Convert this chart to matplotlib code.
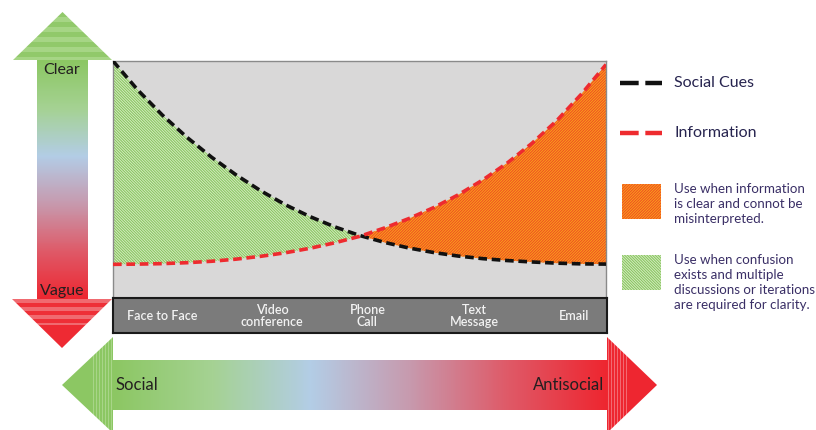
import numpy as np
import matplotlib
matplotlib.use("Agg")
import matplotlib.pyplot as plt
from matplotlib.colors import LinearSegmentedColormap, to_rgb
from matplotlib.patches import Polygon, Rectangle

# ---------------- data ----------------
x_pos = [0.00, 0.05, 0.10, 0.15, 0.20, 0.25, 0.30, 0.35, 0.40, 0.45, 0.50,
         0.55, 0.60, 0.65, 0.70, 0.75, 0.80, 0.85, 0.90, 0.95, 1.00]
social_cues = [1.000, 0.878, 0.772, 0.678, 0.594, 0.519, 0.452, 0.393, 0.343, 0.300, 0.264,
               0.235, 0.211, 0.192, 0.177, 0.166, 0.158, 0.152, 0.147, 0.144, 0.143]
information = [0.142, 0.143, 0.145, 0.149, 0.155, 0.164, 0.176, 0.191, 0.210, 0.233, 0.260,
               0.295, 0.335, 0.381, 0.435, 0.498, 0.570, 0.653, 0.748, 0.860, 0.985]
channels = ["Face to Face", "Video\nconference", "Phone\nCall", "Text\nMessage", "Email"]
series_labels = ["Social Cues", "Information"]
fill_notes = ["Use when information\nis clear and connot be\nmisinterpreted.",
              "Use when confusion\nexists and multiple\ndiscussions or iterations\nare required for clarity."]
vertical_labels = ["Clear", "Vague"]
horizontal_labels = ["Social", "Antisocial"]

# ---------------- style ----------------
FONT = ["Lato", "DejaVu Sans"]
plt.rcParams["font.family"] = FONT
plt.rcParams["hatch.linewidth"] = 0.7
W, H = 816, 430
BLACK = "#111111"
RED = "#ee2b2f"
GREEN_H = "#86c35c"
GREEN_F = "#d3ebc0"
ORANGE_F = "#fba21a"
ORANGE_H = "#ee4a24"
TXT_NAVY = "#27244f"
TXT_PURP = "#3a2f66"
HATCH_N = 12

fig = plt.figure(figsize=(W / 100, H / 100), dpi=100)
fig.patch.set_facecolor("white")

# full-figure pixel-space axes for decorations
bg = fig.add_axes([0, 0, 1, 1])
bg.set_axis_off()


def px_axes(x0, y0, x1, y1):
    return fig.add_axes([x0 / W, 1 - y1 / H, (x1 - x0) / W, (y1 - y0) / H])


grad = LinearSegmentedColormap.from_list(
    "g", ["#8cc763", "#a5d293", "#b3cde6", "#c79aae", "#df5a68", "#ee2630"])


def clipped_image(ax, verts, img, extent, z=2):
    poly = Polygon(verts, closed=True, facecolor="none", edgecolor="none")
    ax.add_patch(poly)
    im = ax.imshow(img, extent=extent, aspect="auto", interpolation="nearest", zorder=z)
    im.set_clip_path(poly)


# ---- vertical arrow (Clear / Vague) ----
n = 240
col = grad(np.linspace(0, 1, n))[:, :3][:, None, :]
bg.imshow(col, extent=(37, 88, 300, 60), aspect="auto", interpolation="bilinear", zorder=1)

rows = []
for i in range(48):
    rows.append(to_rgb("#a6d585") if (i // 5) % 2 == 1 else to_rgb("#91c96a"))
clipped_image(bg, [(13, 60), (112, 60), (62.5, 12)], np.array(rows)[:, None, :], (13, 112, 60, 12))

rows = []
for i in range(49):
    if i < 26:
        rows.append(to_rgb("#f06a70") if (i // 4) % 2 == 0 else to_rgb("#ee2f37"))
    else:
        rows.append(to_rgb("#ee2a33"))
clipped_image(bg, [(12, 299), (112, 299), (62, 348)], np.array(rows)[:, None, :], (12, 112, 348, 299))

bg.text(62, 70, vertical_labels[0], ha="center", va="center", fontsize=11.5, color="#231f20", zorder=5)
bg.text(62, 291, vertical_labels[1], ha="center", va="center", fontsize=11.5, color="#231f20", zorder=5)

# ---- horizontal arrow (Social / Antisocial) ----
row = grad(np.linspace(0, 1, 500))[:, :3][None, :, :]
bg.imshow(row, extent=(113, 607, 410, 360), aspect="auto", interpolation="bilinear", zorder=1)

cols = []
for i in range(51):
    d = 50 - i
    if d < 20:
        cols.append(to_rgb("#a8d588") if d % 3 == 1 else to_rgb("#8cc763"))
    else:
        cols.append(to_rgb("#8cc763"))
clipped_image(bg, [(113, 337), (113, 433), (62, 385)], np.array(cols)[None, :, :], (62, 113, 433, 337))

cols = []
for i in range(51):
    if i < 20:
        cols.append(to_rgb("#f26a72") if i % 3 == 1 else to_rgb("#ee2630"))
    else:
        cols.append(to_rgb("#ee2630"))
clipped_image(bg, [(607, 337), (607, 433), (657, 385)], np.array(cols)[None, :, :], (607, 657, 433, 337))

bg.text(116, 385, horizontal_labels[0], ha="left", va="center", fontsize=12, color="#231f20", zorder=5)
bg.text(604, 385, horizontal_labels[1], ha="right", va="center", fontsize=12, color="#231f20", zorder=5)

# ---- legend ----
bg.plot([620, 662], [83, 83], color=BLACK, lw=3.2, dashes=(4.2, 1.5), dash_capstyle="butt", zorder=5)
bg.plot([620, 662], [133, 133], color=RED, lw=3.2, dashes=(4.2, 1.5), dash_capstyle="butt", zorder=5)
bg.text(674, 83, series_labels[0], ha="left", va="center", fontsize=11.5, color=TXT_NAVY, zorder=5)
bg.text(674, 133, series_labels[1], ha="left", va="center", fontsize=11.5, color=TXT_NAVY, zorder=5)

bg.add_patch(Rectangle((622, 184), 39, 35, facecolor=ORANGE_F, edgecolor=ORANGE_H, lw=0,
                       hatch="/" * HATCH_N, zorder=4))
bg.add_patch(Rectangle((622, 255), 39, 35, facecolor=GREEN_F, edgecolor=GREEN_H, lw=0,
                       hatch="\\" * HATCH_N, zorder=4))
bg.text(674, 183, fill_notes[0], ha="left", va="top", fontsize=9.6, color=TXT_PURP,
        linespacing=1.3, zorder=5)
bg.text(674, 254, fill_notes[1], ha="left", va="top", fontsize=9.6, color=TXT_PURP,
        linespacing=1.3, zorder=5)

bg.set_xlim(0, W)
bg.set_ylim(H, 0)

# ---- main chart ----
ax = px_axes(113, 61, 606, 298)
ax.set_facecolor("#d9d8d8")
xa = np.array(x_pos)
sc = np.array(social_cues)
inf = np.array(information)
ax.fill_between(xa, sc, inf, where=sc >= inf, interpolate=True, facecolor=GREEN_F,
                edgecolor=GREEN_H, linewidth=0, hatch="\\" * HATCH_N, zorder=2)
ax.fill_between(xa, sc, inf, where=inf >= sc, interpolate=True, facecolor=ORANGE_F,
                edgecolor=ORANGE_H, linewidth=0, hatch="/" * HATCH_N, zorder=2)
ax.plot(xa, sc, color=BLACK, lw=2.6, dashes=(2.4, 1.3), zorder=3)
ax.plot(xa, inf, color=RED, lw=2.6, dashes=(2.4, 1.3), zorder=4)
ax.set_xlim(0, 1)
ax.set_ylim(0, 1)
ax.set_xticks([])
ax.set_yticks([])
for s in ax.spines.values():
    s.set_color("#8a8a8a")
    s.set_linewidth(1.0)

# ---- channel strip ----
strip = px_axes(113, 298, 607, 333)
strip.set_facecolor("#7b7b7b")
strip.set_xticks([])
strip.set_yticks([])
for s in strip.spines.values():
    s.set_color("#1a1a1a")
    s.set_linewidth(1.5)
strip.set_xlim(0, 1)
strip.set_ylim(0, 1)
channel_x = [0.099, 0.322, 0.515, 0.731, 0.934]
for cx, lab in zip(channel_x, channels):
    strip.text(cx, 0.5, lab, ha="center", va="center", fontsize=9.0, color="#f2f2f2",
               fontweight="semibold", linespacing=1.0)

fig.savefig("out.png", dpi=100, facecolor="white")
